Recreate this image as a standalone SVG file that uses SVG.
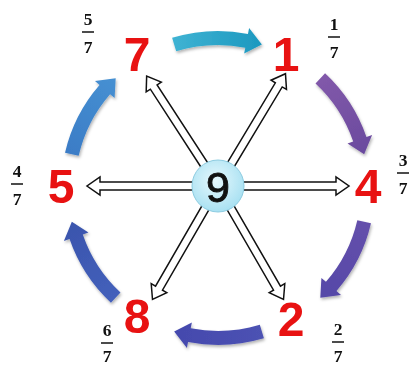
<svg xmlns="http://www.w3.org/2000/svg" xmlns:xlink="http://www.w3.org/1999/xlink" width="410" height="367" viewBox="0 0 410 367">
<style>
.num{font-family:"Liberation Sans",Arial,sans-serif;font-weight:bold;font-size:48px;fill:#e81212;text-anchor:middle}
.fr{font-family:"Liberation Serif","Times New Roman",serif;font-weight:bold;font-size:17.5px;fill:#111;text-anchor:middle}
.bar{stroke:#111;stroke-width:1.5}
.hol{fill:#fff;stroke:#111;stroke-width:1.5;stroke-linejoin:miter}
</style>
<defs>
<path id="arc" d="M172.09,37.86 A157,157 0 0 1 247.96,33.89 L249.10,28.00 L261.86,44.55 L244.14,53.52 L245.28,47.63 A143,143 0 0 0 176.19,51.25 Z"/>
<path id="hol" d="M22,-4 L118,-4 L118,-9 L131,0 L118,9 L118,4 L22,4 Z"/>
<linearGradient id="g0" x1="0" y1="0" x2="1" y2="0"><stop offset="0" stop-color="#3fb3d3"/><stop offset="1" stop-color="#1c98bf"/></linearGradient>
<linearGradient id="g1" x1="0" y1="0" x2="1" y2="0"><stop offset="0" stop-color="#8259aa"/><stop offset="1" stop-color="#6a4a9e"/></linearGradient>
<linearGradient id="g2" x1="0" y1="0" x2="1" y2="0"><stop offset="0" stop-color="#6450ab"/><stop offset="1" stop-color="#5548a8"/></linearGradient>
<linearGradient id="g3" x1="0" y1="0" x2="1" y2="0"><stop offset="0" stop-color="#4d52b3"/><stop offset="1" stop-color="#4449ad"/></linearGradient>
<linearGradient id="g4" x1="0" y1="0" x2="1" y2="0"><stop offset="0" stop-color="#4460bb"/><stop offset="1" stop-color="#3a55ad"/></linearGradient>
<linearGradient id="g5" x1="0" y1="0" x2="1" y2="0"><stop offset="0" stop-color="#3b7cc6"/><stop offset="1" stop-color="#4690d2"/></linearGradient>
<radialGradient id="cg" cx="0.45" cy="0.4" r="0.6"><stop offset="0" stop-color="#e6f8fd"/><stop offset="1" stop-color="#a9e1f2"/></radialGradient>
<filter id="sh" x="-10%" y="-10%" width="120%" height="120%"><feDropShadow dx="1" dy="2" stdDeviation="1.5" flood-color="#000" flood-opacity="0.3"/></filter>
</defs>
<g id="connectors">
<g id="cycle" filter="url(#sh)">
<use xlink:href="#arc" href="#arc" fill="url(#g0)"/>
<use xlink:href="#arc" href="#arc" fill="url(#g1)" transform="rotate(60 218 188)"/>
<use xlink:href="#arc" href="#arc" fill="url(#g2)" transform="rotate(120 218 188)"/>
<use xlink:href="#arc" href="#arc" fill="url(#g3)" transform="rotate(180 218 188)"/>
<use xlink:href="#arc" href="#arc" fill="url(#g4)" transform="rotate(240 218 188)"/>
<use xlink:href="#arc" href="#arc" fill="url(#g5)" transform="rotate(300 218 188)"/>
</g>
<g id="spokes">
<use xlink:href="#hol" href="#hol" class="hol" transform="translate(218 186) rotate(-59)"/>
<use xlink:href="#hol" href="#hol" class="hol" transform="translate(218 186) rotate(-123)"/>
<use xlink:href="#hol" href="#hol" class="hol" transform="translate(218 186) rotate(0)"/>
<use xlink:href="#hol" href="#hol" class="hol" transform="translate(218 186) rotate(180)"/>
<use xlink:href="#hol" href="#hol" class="hol" transform="translate(218 186) rotate(120)"/>
<use xlink:href="#hol" href="#hol" class="hol" transform="translate(218 186) rotate(60)"/>
</g>
</g>
<g id="node-9">
<circle cx="218" cy="186" r="26" fill="url(#cg)" stroke="#8ccbe0" stroke-width="1"/>
<text x="218" y="202" style="font-family:'Liberation Sans',Arial,sans-serif;font-size:43px;fill:#111;stroke:#111;stroke-width:0.9;text-anchor:middle">9</text>
</g>
<g id="node-7"><text class="num" x="137" y="71">7</text>
<text class="fr" x="88" y="25">5</text><line class="bar" x1="82" y1="32" x2="94" y2="32"/><text class="fr" x="88" y="53">7</text></g>
<g id="node-1"><text class="num" x="286" y="71">1</text>
<text class="fr" x="334" y="30">1</text><line class="bar" x1="328" y1="37" x2="340" y2="37"/><text class="fr" x="334" y="58">7</text></g>
<g id="node-4"><text class="num" x="368" y="203">4</text>
<text class="fr" x="403" y="166">3</text><line class="bar" x1="397" y1="173" x2="409" y2="173"/><text class="fr" x="403" y="194">7</text></g>
<g id="node-5"><text class="num" x="61" y="203">5</text>
<text class="fr" x="17" y="177">4</text><line class="bar" x1="11" y1="184" x2="23" y2="184"/><text class="fr" x="17" y="205">7</text></g>
<g id="node-8"><text class="num" x="137" y="333">8</text>
<text class="fr" x="107" y="336">6</text><line class="bar" x1="101" y1="343" x2="113" y2="343"/><text class="fr" x="107" y="362">7</text></g>
<g id="node-2"><text class="num" x="291" y="336">2</text>
<text class="fr" x="338" y="335">2</text><line class="bar" x1="332" y1="342" x2="344" y2="342"/><text class="fr" x="338" y="362">7</text></g>
</svg>
